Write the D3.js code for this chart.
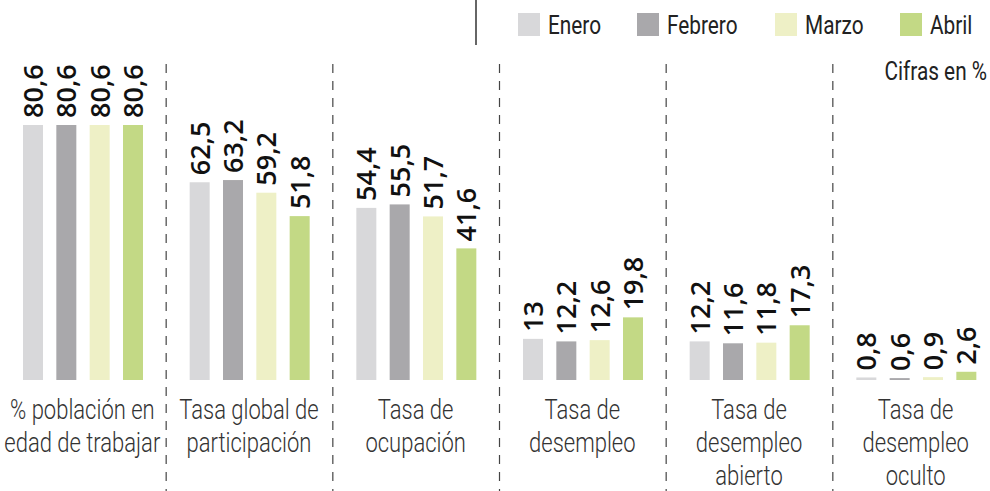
<!DOCTYPE html>
<html>
<head>
  <meta charset="utf-8">
  <script src="https://d3js.org/d3.v7.min.js"></script>
  <style>
    body { margin: 0; background: #fff; }
    .val { font-family: "Open Sans", sans-serif; font-weight: 600; font-size: 27px; fill: #111; }
    .cat { font-family: Roboto, sans-serif; font-weight: 300; font-size: 27.5px; fill: #333; text-anchor: middle; }
    .leg { font-family: Roboto, sans-serif; font-weight: 400; font-size: 26px; fill: #222; }
  </style>
</head>
<body>
  <div id="chart"></div>
  <script>
    const categories = [
      ["% población en", "edad de trabajar"],
      ["Tasa global de", "participación"],
      ["Tasa de", "ocupación"],
      ["Tasa de", "desempleo"],
      ["Tasa de", "desempleo", "abierto"],
      ["Tasa de", "desempleo", "oculto"]
    ];
    const months = ["Enero", "Febrero", "Marzo", "Abril"];
    const enero   = [80.6, 62.5, 54.4, 13,   12.2, 0.8];
    const febrero = [80.6, 63.2, 55.5, 12.2, 11.6, 0.6];
    const marzo   = [80.6, 59.2, 51.7, 12.6, 11.8, 0.9];
    const abril   = [80.6, 51.8, 41.6, 19.8, 17.3, 2.6];
    const colors = ["#d8d8da", "#a9a8ab", "#eef0c6", "#c3d985"];

    const series = [enero, febrero, marzo, abril];
    const W = 990, H = 491;
    const baseY = 380;
    const narrow = 0.8;

    const svg = d3.select("#chart").append("svg")
      .attr("width", W).attr("height", H);

    const x0 = d3.scaleBand()
      .domain(d3.range(categories.length))
      .range([0, 1000]);

    const x1 = d3.scaleBand()
      .domain(months)
      .range([23, 143])
      .paddingInner(0.4);

    const y = d3.scaleLinear()
      .domain([0, 80.6])
      .range([baseY, 125]);

    const fmt = v => String(v).replace(".", ",");

    // separators
    svg.selectAll(".sep")
      .data(d3.range(1, categories.length))
      .enter().append("line")
        .attr("x1", i => x0(i) - 0.5).attr("x2", i => x0(i) - 0.5)
        .attr("y1", 64).attr("y2", H)
        .attr("stroke", "#444").attr("stroke-width", 1.2)
        .attr("stroke-dasharray", "9,8");

    const groups = svg.selectAll(".grp")
      .data(categories)
      .enter().append("g")
        .attr("transform", (d, i) => `translate(${x0(i)},0)`);

    groups.each(function(cat, i) {
      const g = d3.select(this);
      months.forEach((m, k) => {
        const v = series[k][i];
        g.append("rect")
          .attr("x", x1(m))
          .attr("y", y(v))
          .attr("width", x1.bandwidth())
          .attr("height", baseY - y(v))
          .attr("fill", colors[k]);
        g.append("text")
          .attr("class", "val")
          .attr("transform", `translate(${x1(m) + x1.bandwidth() / 2 + 10},${y(v) - 7}) rotate(-90)`)
          .text(fmt(v));
      });
      cat.forEach((line, j) => {
        g.append("text")
          .attr("class", "cat")
          .attr("transform", `translate(${x0.bandwidth() / 2 - 1},${419 + j * 33}) scale(${narrow},1)`)
          .text(line);
      });
    });

    // legend
    svg.append("line")
      .attr("x1", 476).attr("x2", 476)
      .attr("y1", 0).attr("y2", 45)
      .attr("stroke", "#666").attr("stroke-width", 2);

    const legX = [518, 637, 775, 900];
    months.forEach((m, k) => {
      svg.append("rect")
        .attr("x", legX[k]).attr("y", 13)
        .attr("width", 22).attr("height", 23)
        .attr("fill", colors[k]);
      svg.append("text")
        .attr("class", "leg")
        .attr("transform", `translate(${legX[k] + 30},34) scale(${narrow},1)`)
        .text(m);
    });

    svg.append("text")
      .attr("class", "leg")
      .attr("transform", `translate(987,80) scale(${narrow},1)`)
      .attr("text-anchor", "end")
      .attr("font-size", 24)
      .text("Cifras en %");
  </script>
</body>
</html>
